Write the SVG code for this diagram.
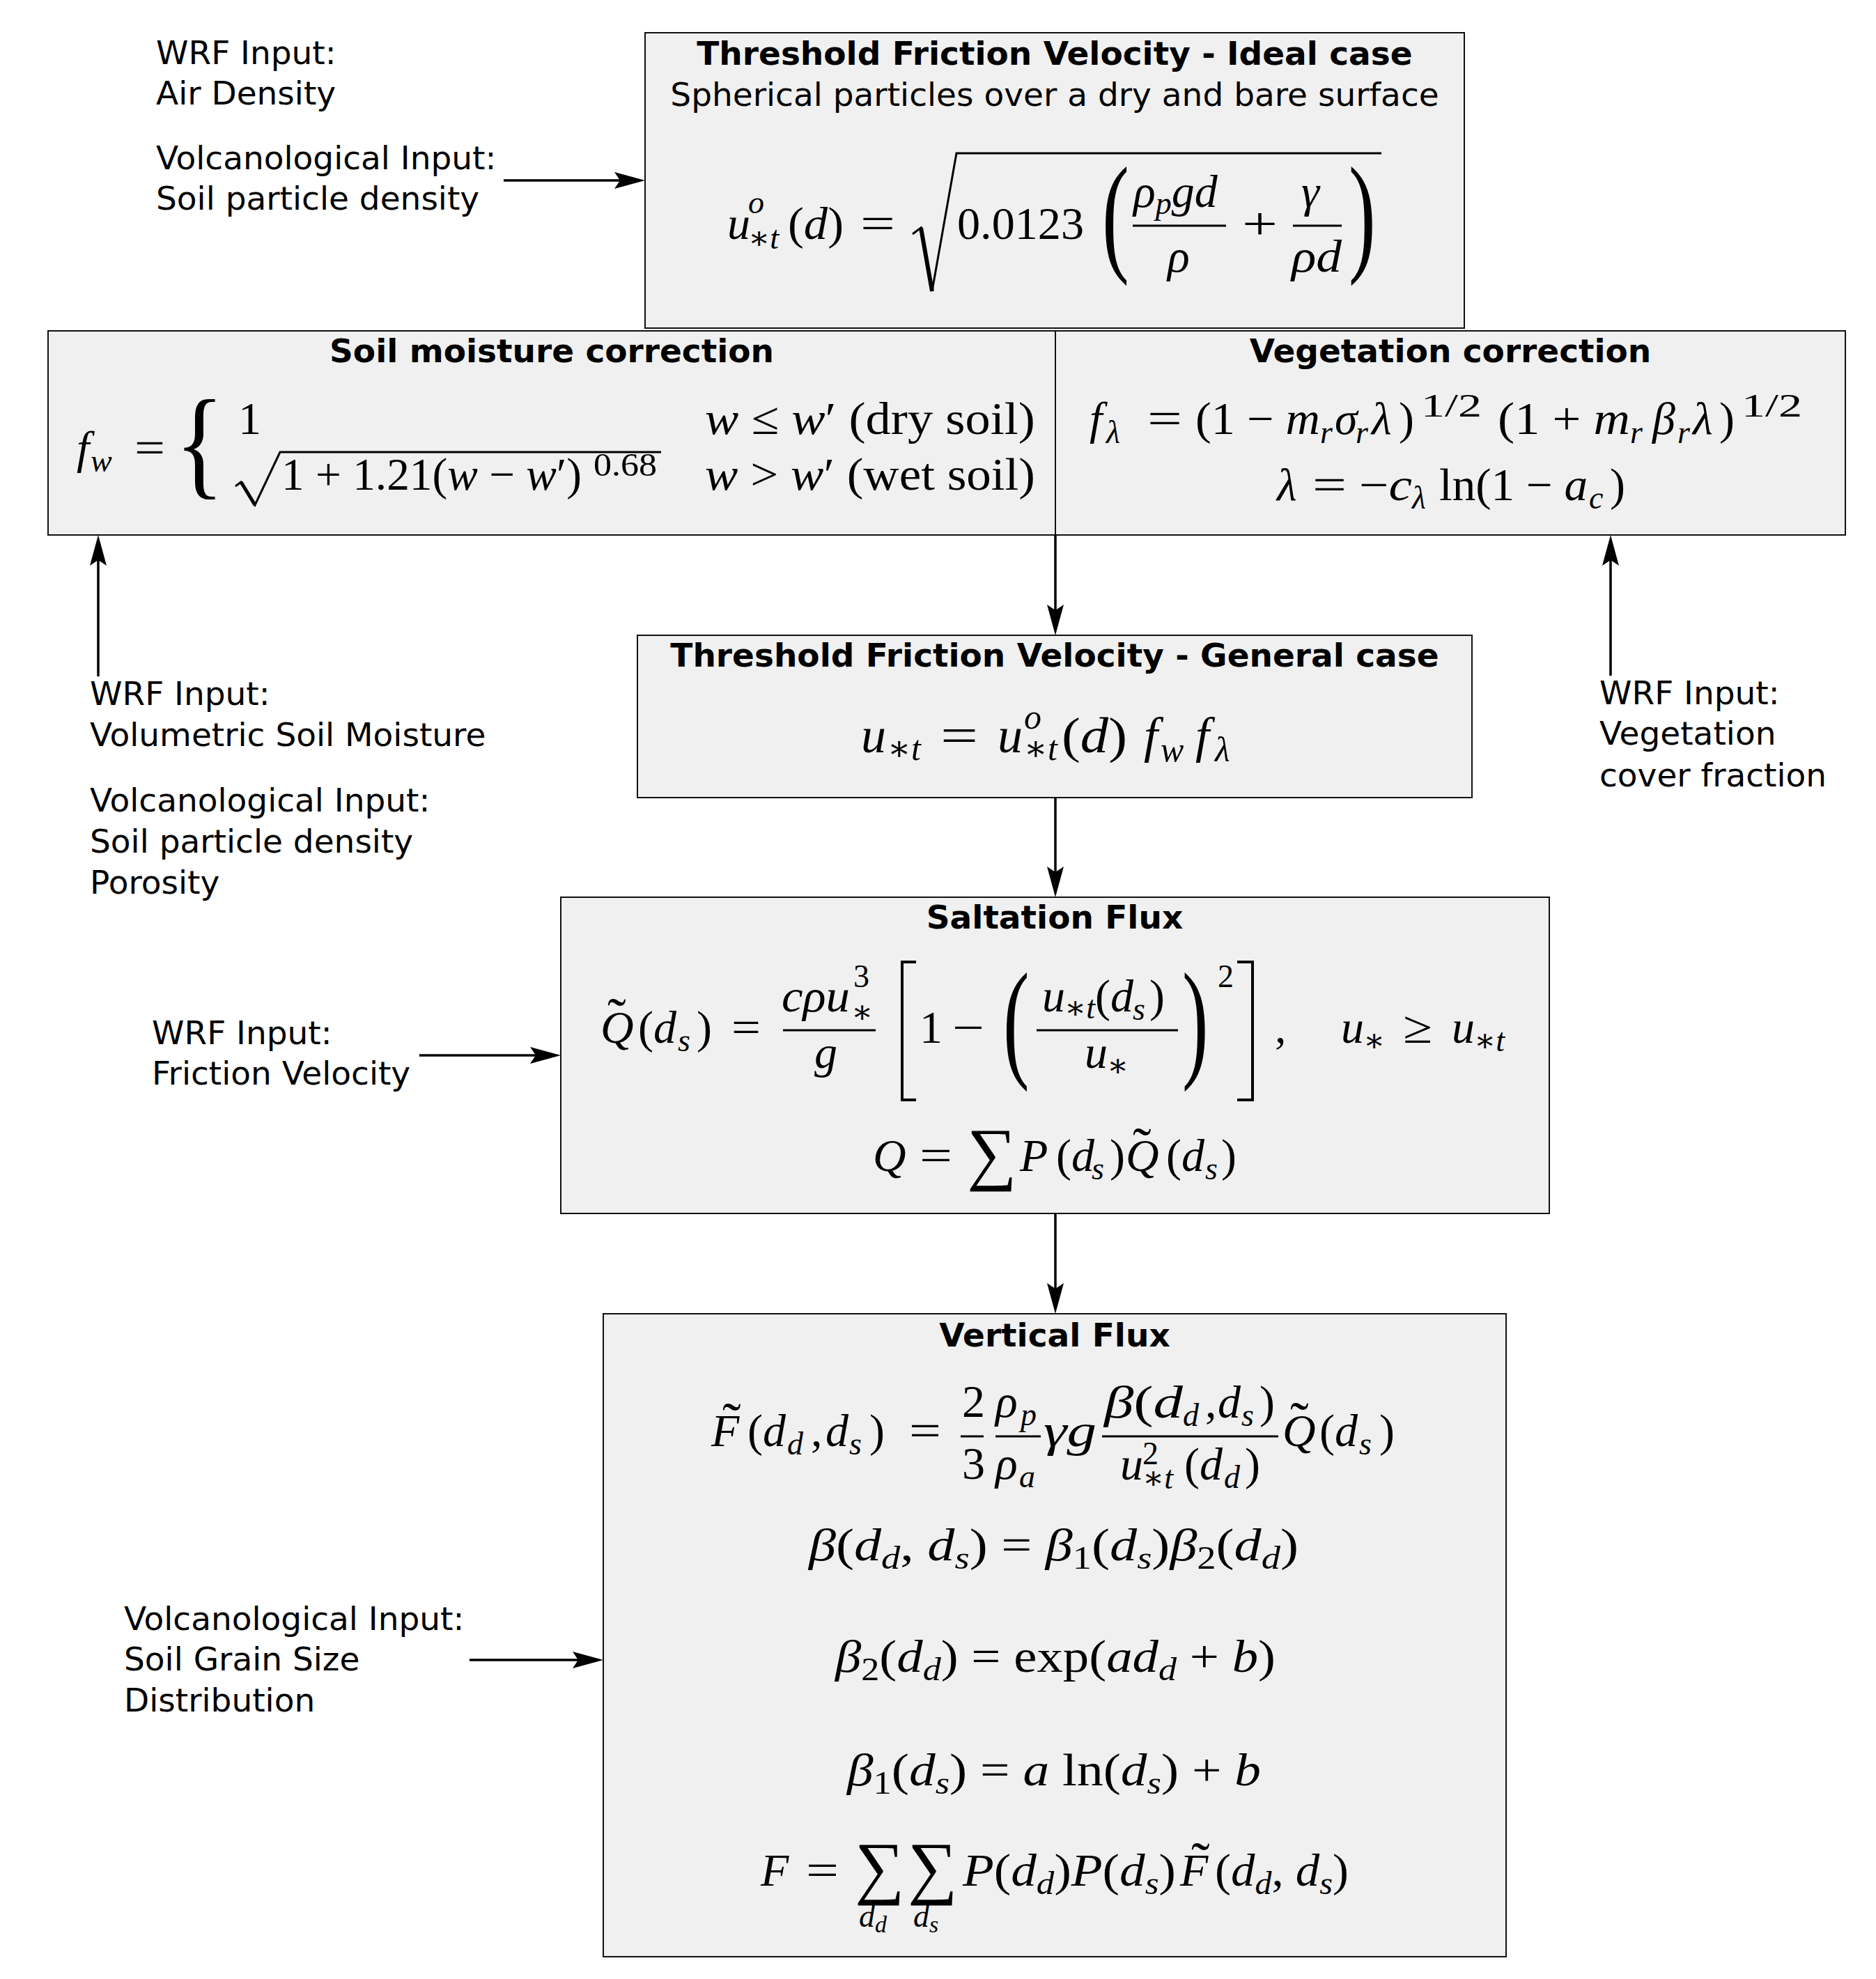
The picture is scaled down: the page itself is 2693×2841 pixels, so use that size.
<svg xmlns="http://www.w3.org/2000/svg" width="2693" height="2841" viewBox="0 0 2693 2841">
<style>
.lbl{font-family:"DejaVu Sans",sans-serif;font-size:47px;fill:#000}
.ttl{font-family:"DejaVu Sans",sans-serif;font-weight:bold;font-size:47px;text-anchor:middle;fill:#000}
.sub{font-family:"DejaVu Sans",sans-serif;font-size:47px;text-anchor:middle;fill:#000}
.m{font-family:"Liberation Serif","DejaVu Serif",serif;font-size:66px;fill:#000}
.g{font-size:72px}
.gs{font-size:50px}
.i{font-style:italic}
.s{font-size:46px}
.ss{font-size:34px}
.big{font-size:188px}
.brace{font-size:174px}
.sum{font-size:100px}
.tl{font-size:80px}
.box{fill:#f0f0f0;stroke:#111;stroke-width:2}
.bar{stroke:#000;stroke-width:3;fill:none}
.brk{stroke:#000;stroke-width:4;fill:none}
.conn line{stroke:#000;stroke-width:3.5;marker-end:url(#ah)}
</style>
<defs>
<marker id="ah" markerUnits="userSpaceOnUse" markerWidth="48" markerHeight="28" refX="36" refY="14" orient="auto" viewBox="0 0 48 28"><path d="M46,14 L2,2 L10,14 L2,26 Z" fill="#000"/></marker>
</defs>
<rect width="2693" height="2841" fill="#fff"/>

<g id="labels">
<text class="lbl" x="224" y="92">WRF Input:</text>
<text class="lbl" x="224" y="150">Air Density</text>
<text class="lbl" x="224" y="243">Volcanological Input:</text>
<text class="lbl" x="224" y="301">Soil particle density</text>
<text class="lbl" x="129" y="1012">WRF Input:</text>
<text class="lbl" x="129" y="1071">Volumetric Soil Moisture</text>
<text class="lbl" x="129" y="1165">Volcanological Input:</text>
<text class="lbl" x="129" y="1224">Soil particle density</text>
<text class="lbl" x="129" y="1283">Porosity</text>
<text class="lbl" x="2296" y="1011">WRF Input:</text>
<text class="lbl" x="2296" y="1069">Vegetation</text>
<text class="lbl" x="2296" y="1129">cover fraction</text>
<text class="lbl" x="218" y="1499">WRF Input:</text>
<text class="lbl" x="218" y="1557">Friction Velocity</text>
<text class="lbl" x="178" y="2340">Volcanological Input:</text>
<text class="lbl" x="178" y="2398">Soil Grain Size</text>
<text class="lbl" x="178" y="2457">Distribution</text>
</g>

<g id="node-ideal">
<rect class="box" x="926" y="47" width="1176" height="424"/>
<text class="ttl" x="1514" y="93">Threshold Friction Velocity - Ideal case</text>
<text class="sub" x="1514" y="152">Spherical particles over a dry and bare surface</text>
<text class="m i" x="1044" y="343">u</text>
<text class="m s i" x="1074" y="306">o</text>
<text class="m s" x="1074" y="357">∗<tspan class="i">t</tspan></text>
<text class="m" x="1131" y="343" textLength="80" lengthAdjust="spacingAndGlyphs">(<tspan class="i">d</tspan>)</text>
<text class="m" x="1235" y="343" textLength="50" lengthAdjust="spacingAndGlyphs">=</text>
<path class="bar" d="M1310,336 L1322,327 L1338,418 L1373,220 H1983"/>
<path d="M1322,327 L1338,418" stroke="#000" stroke-width="6"/>
<text class="m" x="1374" y="343" textLength="182" lengthAdjust="spacingAndGlyphs">0.0123</text>
<text class="m big" transform="translate(1582,370) scale(0.62,1)">(</text>
<text class="m i" x="1627" y="297">ρ<tspan class="s" dy="10">p</tspan><tspan dy="-10">gd</tspan></text>
<line class="bar" x1="1626" y1="324" x2="1760" y2="324"/>
<text class="m i" x="1676" y="390">ρ</text>
<text class="m" x="1783" y="343" textLength="51" lengthAdjust="spacingAndGlyphs">+</text>
<text class="m i" x="1868" y="297">γ</text>
<line class="bar" x1="1856" y1="324" x2="1926" y2="324"/>
<text class="m i" x="1854" y="390" textLength="72" lengthAdjust="spacingAndGlyphs">ρd</text>
<text class="m big" transform="translate(1936,370) scale(0.62,1)">)</text>
</g>

<g id="node-soil">
<rect class="box" x="69" y="475" width="1446" height="293"/>
<text class="ttl" x="792" y="520">Soil moisture correction</text>
<text class="m i" x="110" y="665">f</text>
<text class="m s i" x="130" y="677">w</text>
<text class="m" x="193" y="665" textLength="44" lengthAdjust="spacingAndGlyphs">=</text>
<text class="m brace" transform="translate(251,694) scale(0.85,1)">{</text>
<text class="m" x="342" y="623">1</text>
<path class="bar" d="M338,698 L346,692 L366,725 L402,649 H949"/>
<path d="M346,692 L366,725" stroke="#000" stroke-width="5"/>
<text class="m" x="404" y="703" textLength="431" lengthAdjust="spacingAndGlyphs">1 + 1.21(<tspan class="i">w</tspan> − <tspan class="i">w</tspan>′)</text>
<text class="m s" x="852" y="683" textLength="91" lengthAdjust="spacingAndGlyphs">0.68</text>
<text class="m" x="1012" y="623" textLength="474" lengthAdjust="spacingAndGlyphs"><tspan class="i">w</tspan> ≤ <tspan class="i">w</tspan>′  (dry soil)</text>
<text class="m" x="1012" y="703" textLength="474" lengthAdjust="spacingAndGlyphs"><tspan class="i">w</tspan> &gt; <tspan class="i">w</tspan>′  (wet soil)</text>
</g>

<g id="node-vegetation">
<rect class="box" x="1515" y="475" width="1134" height="293"/>
<text class="ttl" x="2082" y="520">Vegetation correction</text>
<text class="m i" x="1564" y="623">f</text>
<text class="m s i" x="1588" y="636">λ</text>
<text class="m" x="1647" y="623" textLength="50" lengthAdjust="spacingAndGlyphs">=</text>
<text class="m" x="1716" y="623" textLength="179" lengthAdjust="spacingAndGlyphs">(1 − <tspan class="i">m</tspan></text>
<text class="m s i" x="1895" y="636">r</text>
<text class="m i" x="1916" y="623">σ</text>
<text class="m s i" x="1946" y="636">r</text>
<text class="m i" x="1969" y="623">λ</text>
<text class="m" x="2008" y="623">)</text>
<text class="m s" x="2040" y="598" textLength="87" lengthAdjust="spacingAndGlyphs">1/2</text>
<text class="m" x="2150" y="623" textLength="190" lengthAdjust="spacingAndGlyphs">(1 + <tspan class="i">m</tspan></text>
<text class="m s i" x="2340" y="636">r</text>
<text class="m i" x="2372" y="623">β</text>
<text class="m s i" x="2408" y="636">r</text>
<text class="m i" x="2430" y="623">λ</text>
<text class="m" x="2468" y="623">)</text>
<text class="m s" x="2500" y="598" textLength="87" lengthAdjust="spacingAndGlyphs">1/2</text>
<text class="m i" x="1833" y="718">λ</text>
<text class="m" x="1884" y="718" textLength="49" lengthAdjust="spacingAndGlyphs">=</text>
<text class="m" x="1951" y="718" textLength="76" lengthAdjust="spacingAndGlyphs">−<tspan class="i">c</tspan></text>
<text class="m s i" x="2027" y="730">λ</text>
<text class="m" x="2066" y="718" textLength="213" lengthAdjust="spacingAndGlyphs">ln(1 − <tspan class="i">a</tspan></text>
<text class="m s i" x="2281" y="730">c</text>
<text class="m" x="2311" y="718">)</text>
</g>

<g id="node-general">
<rect class="box" x="915" y="912" width="1198" height="233"/>
<text class="ttl" x="1514" y="957">Threshold Friction Velocity - General case</text>
<text class="m g i" x="1236" y="1080">u</text>
<text class="m gs" x="1274" y="1091">∗<tspan class="i">t</tspan></text>
<text class="m g" x="1350" y="1080" textLength="54" lengthAdjust="spacingAndGlyphs">=</text>
<text class="m g i" x="1432" y="1080">u</text>
<text class="m gs i" x="1470" y="1046">o</text>
<text class="m gs" x="1470" y="1091">∗<tspan class="i">t</tspan></text>
<text class="m g" x="1524" y="1080" textLength="94" lengthAdjust="spacingAndGlyphs">(<tspan class="i">d</tspan>)</text>
<text class="m g i" x="1642" y="1080">f</text>
<text class="m gs i" x="1666" y="1093">w</text>
<text class="m g i" x="1716" y="1080">f</text>
<text class="m gs i" x="1744" y="1093">λ</text>
</g>

<g id="node-saltation">
<rect class="box" x="805" y="1288" width="1419" height="454"/>
<text class="ttl" x="1514" y="1333">Saltation Flux</text>
<text class="m i" x="862" y="1497">Q</text>
<text class="m tl" x="872" y="1488">˜</text>
<text class="m" x="916" y="1497">(<tspan class="i">d</tspan></text>
<text class="m s i" x="973" y="1509">s</text>
<text class="m" x="1000" y="1497">)</text>
<text class="m" x="1050" y="1497" textLength="42" lengthAdjust="spacingAndGlyphs">=</text>
<text class="m i" x="1122" y="1452" textLength="98" lengthAdjust="spacingAndGlyphs">cρu</text>
<text class="m s" x="1225" y="1417">3</text>
<text class="m s" x="1222" y="1468">∗</text>
<line class="bar" x1="1124" y1="1479" x2="1257" y2="1479"/>
<text class="m i" x="1169" y="1533">g</text>
<path class="brk" d="M1315,1381 H1295 V1579 H1315"/>
<text class="m" x="1320" y="1497">1</text>
<text class="m" x="1367" y="1497" textLength="46" lengthAdjust="spacingAndGlyphs">−</text>
<text class="m big" transform="translate(1440,1527) scale(0.6,1)">(</text>
<text class="m i" x="1496" y="1452">u</text>
<text class="m s" x="1528" y="1462">∗<tspan class="i">t</tspan></text>
<text class="m" x="1572" y="1452">(<tspan class="i">d</tspan></text>
<text class="m s i" x="1626" y="1464">s</text>
<text class="m" x="1650" y="1452">)</text>
<line class="bar" x1="1488" y1="1479" x2="1691" y2="1479"/>
<text class="m i" x="1557" y="1533">u</text>
<text class="m s" x="1589" y="1545">∗</text>
<text class="m big" transform="translate(1697,1527) scale(0.6,1)">)</text>
<text class="m s" x="1748" y="1417">2</text>
<path class="brk" d="M1776,1381 H1798 V1579 H1776"/>
<text class="m" x="1830" y="1497">,</text>
<text class="m i" x="1925" y="1497">u</text>
<text class="m s" x="1957" y="1509">∗</text>
<text class="m" x="2014" y="1497" textLength="42" lengthAdjust="spacingAndGlyphs">≥</text>
<text class="m i" x="2084" y="1497">u</text>
<text class="m s" x="2116" y="1509">∗<tspan class="i">t</tspan></text>
<text class="m i" x="1253" y="1681">Q</text>
<text class="m" x="1320" y="1681" textLength="47" lengthAdjust="spacingAndGlyphs">=</text>
<text class="m sum" x="1388" y="1689">∑</text>
<text class="m i" x="1464" y="1681">P</text>
<text class="m" x="1516" y="1681">(<tspan class="i">d</tspan></text>
<text class="m s i" x="1567" y="1693">s</text>
<text class="m" x="1593" y="1681">)</text>
<text class="m i" x="1616" y="1681">Q</text>
<text class="m tl" x="1626" y="1674">˜</text>
<text class="m" x="1674" y="1681">(<tspan class="i">d</tspan></text>
<text class="m s i" x="1730" y="1693">s</text>
<text class="m" x="1753" y="1681">)</text>
</g>

<g id="node-vertical">
<rect class="box" x="866" y="1886" width="1296" height="923"/>
<text class="ttl" x="1514" y="1933">Vertical Flux</text>
<text class="m i" x="1021" y="2076">F</text>
<text class="m tl" x="1037" y="2069">˜</text>
<text class="m" x="1073" y="2076">(<tspan class="i">d</tspan></text>
<text class="m s i" x="1130" y="2088">d</text>
<text class="m" x="1164" y="2076">,</text>
<text class="m i" x="1185" y="2076">d</text>
<text class="m s i" x="1219" y="2088">s</text>
<text class="m" x="1248" y="2076">)</text>
<text class="m" x="1305" y="2076" textLength="46" lengthAdjust="spacingAndGlyphs">=</text>
<text class="m" x="1381" y="2034">2</text>
<line class="bar" x1="1379" y1="2062" x2="1412" y2="2062"/>
<text class="m" x="1381" y="2123">3</text>
<text class="m i" x="1429" y="2034">ρ</text>
<text class="m s i" x="1465" y="2046">p</text>
<line class="bar" x1="1429" y1="2062" x2="1494" y2="2062"/>
<text class="m i" x="1429" y="2123">ρ</text>
<text class="m s i" x="1463" y="2135">a</text>
<text class="m i" x="1498" y="2076" textLength="76" lengthAdjust="spacingAndGlyphs">γg</text>
<line class="bar" x1="1582" y1="2062" x2="1835" y2="2062"/>
<text class="m" x="1585" y="2035" textLength="113" lengthAdjust="spacingAndGlyphs"><tspan class="i">β</tspan>(<tspan class="i">d</tspan></text>
<text class="m s i" x="1698" y="2047">d</text>
<text class="m" x="1730" y="2035">,</text>
<text class="m i" x="1748" y="2035">d</text>
<text class="m s i" x="1782" y="2047">s</text>
<text class="m" x="1808" y="2035">)</text>
<text class="m i" x="1608" y="2124">u</text>
<text class="m s" x="1640" y="2102">2</text>
<text class="m s" x="1640" y="2137">∗<tspan class="i">t</tspan></text>
<text class="m" x="1700" y="2124">(<tspan class="i">d</tspan></text>
<text class="m s i" x="1757" y="2136">d</text>
<text class="m" x="1787" y="2124">)</text>
<text class="m i" x="1841" y="2076">Q</text>
<text class="m tl" x="1852" y="2068">˜</text>
<text class="m" x="1894" y="2076">(<tspan class="i">d</tspan></text>
<text class="m s i" x="1951" y="2088">s</text>
<text class="m" x="1980" y="2076">)</text>

<text class="m" x="1161" y="2240" textLength="703" lengthAdjust="spacingAndGlyphs"><tspan class="i">β</tspan>(<tspan class="i">d</tspan><tspan class="s i" dy="12">d</tspan><tspan dy="-12">, </tspan><tspan class="i">d</tspan><tspan class="s i" dy="12">s</tspan><tspan dy="-12">) = </tspan><tspan class="i">β</tspan><tspan class="s" dy="12">1</tspan><tspan dy="-12">(</tspan><tspan class="i">d</tspan><tspan class="s i" dy="12">s</tspan><tspan dy="-12">)</tspan><tspan class="i">β</tspan><tspan class="s" dy="12">2</tspan><tspan dy="-12">(</tspan><tspan class="i">d</tspan><tspan class="s i" dy="12">d</tspan><tspan dy="-12">)</tspan></text>

<text class="m" x="1199" y="2400" textLength="632" lengthAdjust="spacingAndGlyphs"><tspan class="i">β</tspan><tspan class="s" dy="12">2</tspan><tspan dy="-12">(</tspan><tspan class="i">d</tspan><tspan class="s i" dy="12">d</tspan><tspan dy="-12">) = exp(</tspan><tspan class="i">ad</tspan><tspan class="s i" dy="12">d</tspan><tspan dy="-12"> + </tspan><tspan class="i">b</tspan>)</text>

<text class="m" x="1216" y="2563" textLength="594" lengthAdjust="spacingAndGlyphs"><tspan class="i">β</tspan><tspan class="s" dy="12">1</tspan><tspan dy="-12">(</tspan><tspan class="i">d</tspan><tspan class="s i" dy="12">s</tspan><tspan dy="-12">) = </tspan><tspan class="i">a</tspan> ln(<tspan class="i">d</tspan><tspan class="s i" dy="12">s</tspan><tspan dy="-12">) + </tspan><tspan class="i">b</tspan></text>

<text class="m i" x="1092" y="2707">F</text>
<text class="m" x="1157" y="2707" textLength="47" lengthAdjust="spacingAndGlyphs">=</text>
<text class="m sum" x="1227" y="2714">∑</text>
<text class="m sum" x="1303" y="2714">∑</text>
<text class="m s i" x="1233" y="2766">d<tspan class="ss" dy="8">d</tspan></text>
<text class="m s i" x="1311" y="2766">d<tspan class="ss" dy="8">s</tspan></text>
<text class="m" x="1382" y="2707" textLength="306" lengthAdjust="spacingAndGlyphs"><tspan class="i">P</tspan>(<tspan class="i">d</tspan><tspan class="s i" dy="12">d</tspan><tspan dy="-12">)</tspan><tspan class="i">P</tspan>(<tspan class="i">d</tspan><tspan class="s i" dy="12">s</tspan><tspan dy="-12">)</tspan></text>
<text class="m i" x="1694" y="2707">F</text>
<text class="m tl" x="1710" y="2700">˜</text>
<text class="m" x="1744" y="2707" textLength="192" lengthAdjust="spacingAndGlyphs">(<tspan class="i">d</tspan><tspan class="s i" dy="12">d</tspan><tspan dy="-12">, </tspan><tspan class="i">d</tspan><tspan class="s i" dy="12">s</tspan><tspan dy="-12">)</tspan></text>
</g>

<g id="connectors" class="conn">
<line x1="723" y1="259" x2="916" y2="259"/>
<line x1="1515" y1="768" x2="1515" y2="902"/>
<line x1="1515" y1="1145" x2="1515" y2="1278"/>
<line x1="1515" y1="1742" x2="1515" y2="1876"/>
<line x1="141" y1="971" x2="141" y2="778"/>
<line x1="2312" y1="970" x2="2312" y2="778"/>
<line x1="602" y1="1515" x2="795" y2="1515"/>
<line x1="674" y1="2383" x2="856" y2="2383"/>
</g>
</svg>
